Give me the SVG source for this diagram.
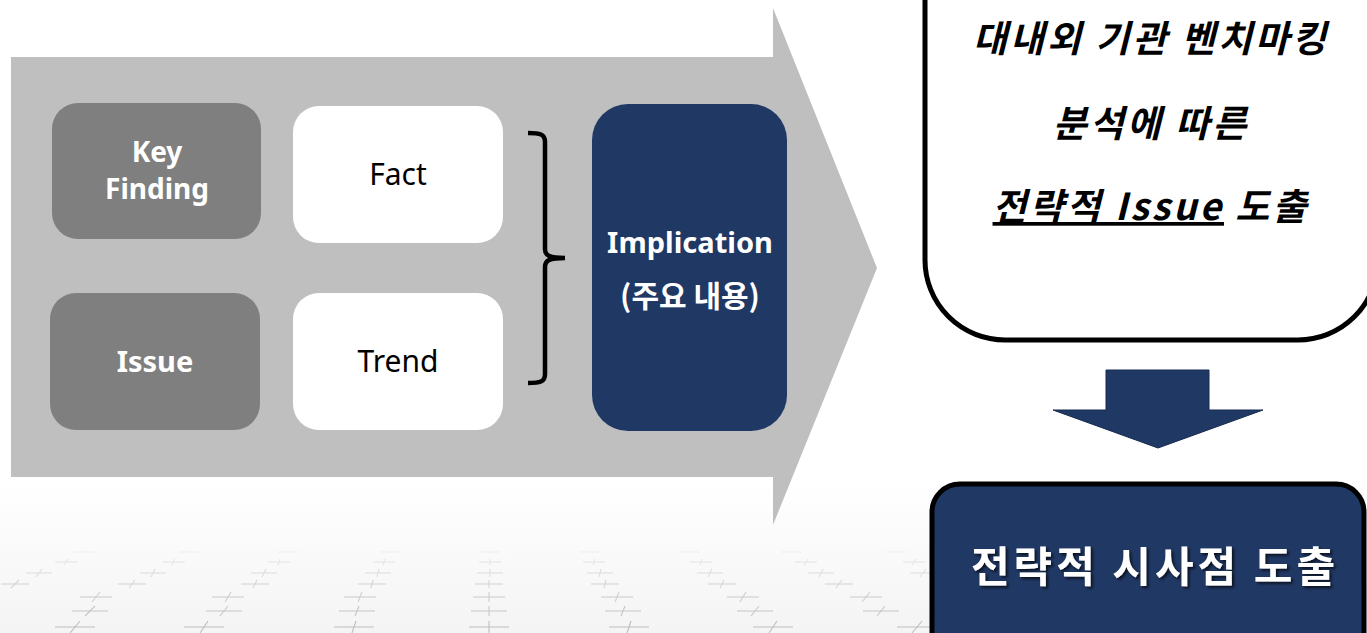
<svg xmlns="http://www.w3.org/2000/svg" width="1367" height="633" viewBox="0 0 1367 633">
<defs>
<style>
.lat{font-family:"Noto Sans","Open Sans","Liberation Sans",sans-serif}
.kr{font-family:"Noto Sans CJK KR","Noto Sans",sans-serif}
.gbox{fill:#7f7f7f}
.wbox{fill:#ffffff}
.wt{fill:#ffffff;font-weight:bold;font-size:28px;text-anchor:middle}
.bt{fill:#000000;font-size:30px;text-anchor:middle}
.cr line{stroke-width:1.1}
</style>
<linearGradient id="floor" x1="0" y1="0" x2="0" y2="1">
<stop offset="0" stop-color="#ffffff"/>
<stop offset="1" stop-color="#f4f4f4"/>
</linearGradient>
<filter id="sh" x="-10%" y="-20%" width="130%" height="150%">
<feDropShadow dx="2" dy="2" stdDeviation="1.5" flood-color="#000" flood-opacity="0.7"/>
</filter>
</defs>
<rect width="1367" height="633" fill="#ffffff"/>
<rect x="0" y="480" width="1367" height="153" fill="url(#floor)"/>
<g id="floor-grid" class="cr">
<g stroke="#efefef">
<line x1="74" y1="552" x2="94" y2="552"/><line x1="179" y1="552" x2="199" y2="552"/><line x1="278" y1="552" x2="298" y2="552"/><line x1="380" y1="552" x2="400" y2="552"/><line x1="480" y1="552" x2="500" y2="552"/><line x1="580" y1="552" x2="600" y2="552"/><line x1="679" y1="552" x2="699" y2="552"/><line x1="781" y1="552" x2="801" y2="552"/><line x1="886" y1="552" x2="906" y2="552"/>
</g>
<g stroke="#e6e6e6">
<line x1="55" y1="562" x2="77" y2="562"/><line x1="163" y1="562" x2="185" y2="562"/><line x1="268" y1="562" x2="290" y2="562"/><line x1="373" y1="562" x2="395" y2="562"/><line x1="479" y1="562" x2="501" y2="562"/><line x1="583" y1="562" x2="605" y2="562"/><line x1="690" y1="562" x2="712" y2="562"/><line x1="795" y1="562" x2="817" y2="562"/><line x1="903" y1="562" x2="925" y2="562"/>
<line x1="68" y1="559" x2="64" y2="565"/><line x1="175" y1="559" x2="172" y2="565"/><line x1="280" y1="559" x2="278" y2="565"/><line x1="385" y1="559" x2="383" y2="565"/><line x1="490" y1="559" x2="490" y2="565"/><line x1="595" y1="559" x2="593" y2="565"/><line x1="702" y1="559" x2="700" y2="565"/><line x1="808" y1="559" x2="804" y2="565"/><line x1="916" y1="559" x2="912" y2="565"/>
</g>
<g stroke="#dedede">
<line x1="26" y1="573" x2="52" y2="573"/><line x1="140" y1="573" x2="166" y2="573"/><line x1="251" y1="573" x2="277" y2="573"/><line x1="365" y1="573" x2="391" y2="573"/><line x1="477" y1="573" x2="503" y2="573"/><line x1="587" y1="573" x2="613" y2="573"/><line x1="697" y1="573" x2="723" y2="573"/><line x1="808" y1="573" x2="834" y2="573"/><line x1="910" y1="573" x2="936" y2="573"/>
<line x1="42" y1="569" x2="36" y2="577"/><line x1="155" y1="569" x2="151" y2="577"/><line x1="266" y1="569" x2="262" y2="577"/><line x1="379" y1="569" x2="377" y2="577"/><line x1="490" y1="569" x2="490" y2="577"/><line x1="601" y1="569" x2="599" y2="577"/><line x1="712" y1="569" x2="708" y2="577"/><line x1="823" y1="569" x2="819" y2="577"/><line x1="926" y1="569" x2="920" y2="577"/>
</g>
<g stroke="#d6d6d6">
<line x1="1" y1="584" x2="29" y2="584"/><line x1="118" y1="584" x2="146" y2="584"/><line x1="241" y1="584" x2="269" y2="584"/><line x1="358" y1="584" x2="386" y2="584"/><line x1="475" y1="584" x2="503" y2="584"/><line x1="591" y1="584" x2="619" y2="584"/><line x1="708" y1="584" x2="736" y2="584"/><line x1="825" y1="584" x2="853" y2="584"/>
<line x1="19" y1="580" x2="11" y2="588"/><line x1="135" y1="580" x2="129" y2="588"/><line x1="257" y1="580" x2="253" y2="588"/><line x1="373" y1="580" x2="371" y2="588"/><line x1="489" y1="580" x2="489" y2="588"/><line x1="606" y1="580" x2="604" y2="588"/><line x1="724" y1="580" x2="720" y2="588"/><line x1="842" y1="580" x2="836" y2="588"/>
</g>
<g stroke="#cecece">
<line x1="80" y1="597" x2="112" y2="597"/><line x1="212" y1="597" x2="244" y2="597"/><line x1="344" y1="597" x2="376" y2="597"/><line x1="473" y1="597" x2="505" y2="597"/><line x1="601" y1="597" x2="633" y2="597"/><line x1="727" y1="597" x2="759" y2="597"/><line x1="850" y1="597" x2="882" y2="597"/>
<line x1="100" y1="592" x2="92" y2="602"/><line x1="231" y1="592" x2="225" y2="602"/><line x1="362" y1="592" x2="358" y2="602"/><line x1="489" y1="592" x2="489" y2="602"/><line x1="619" y1="592" x2="615" y2="602"/><line x1="746" y1="592" x2="740" y2="602"/><line x1="870" y1="592" x2="862" y2="602"/>
</g>
<g stroke="#c6c6c6">
<line x1="72" y1="611" x2="108" y2="611"/><line x1="206" y1="611" x2="242" y2="611"/><line x1="339" y1="611" x2="375" y2="611"/><line x1="471" y1="611" x2="507" y2="611"/><line x1="605" y1="611" x2="641" y2="611"/><line x1="737" y1="611" x2="773" y2="611"/><line x1="863" y1="611" x2="899" y2="611"/>
<line x1="95" y1="606" x2="85" y2="616"/><line x1="228" y1="606" x2="220" y2="616"/><line x1="359" y1="606" x2="355" y2="616"/><line x1="489" y1="606" x2="489" y2="616"/><line x1="625" y1="606" x2="621" y2="616"/><line x1="759" y1="606" x2="751" y2="616"/><line x1="885" y1="606" x2="877" y2="616"/>
</g>
<g stroke="#bdbdbd">
<line x1="55" y1="627" x2="95" y2="627"/><line x1="184" y1="627" x2="224" y2="627"/><line x1="334" y1="627" x2="374" y2="627"/><line x1="469" y1="627" x2="509" y2="627"/><line x1="609" y1="627" x2="649" y2="627"/><line x1="753" y1="627" x2="793" y2="627"/><line x1="897" y1="627" x2="937" y2="627"/>
<line x1="80" y1="621" x2="70" y2="633"/><line x1="208" y1="621" x2="200" y2="633"/><line x1="356" y1="621" x2="352" y2="633"/><line x1="489" y1="621" x2="489" y2="633"/><line x1="631" y1="621" x2="627" y2="633"/><line x1="777" y1="621" x2="769" y2="633"/><line x1="922" y1="621" x2="912" y2="633"/>
</g>
</g>
<g id="big-arrow">
<polygon points="11,57 773,57 773,8 877,268 773,525 773,477 11,477" fill="#bfbfbf"/>
</g>
<g id="node-key-finding">
<rect class="gbox" x="52" y="103" width="209" height="136" rx="26"/>
<text class="lat wt" x="157" y="162">Key</text>
<text class="lat wt" x="157" y="199">Finding</text>
</g>
<g id="node-fact">
<rect class="wbox" x="293" y="106" width="210" height="137" rx="26"/>
<text class="lat bt" x="398" y="185">Fact</text>
</g>
<g id="node-issue">
<rect class="gbox" x="50" y="293" width="210" height="137" rx="26"/>
<text class="lat wt" x="155" y="372" style="font-size:29px">Issue</text>
</g>
<g id="node-trend">
<rect class="wbox" x="293" y="293" width="210" height="137" rx="26"/>
<text class="lat bt" x="398" y="372">Trend</text>
</g>
<g id="connectors">
<path d="M528,133 C540,133 545,134 545,142 L545,249 C545,256 550,258 565,258 C550,258 545,260 545,267 L545,374 C545,382 540,383 528,383" fill="none" stroke="#000" stroke-width="4.5"/>
<polygon id="down-arrow" points="1106,370 1209,370 1209,410 1263,410 1158,448 1053,410 1106,410" fill="#203864" stroke="#162a4e" stroke-width="1"/>
</g>
<g id="node-implication">
<rect x="592" y="104" width="195" height="327" rx="36" fill="#203864"/>
<text class="lat wt" x="690" y="253" style="font-size:29px">Implication</text>
<text class="kr wt" x="690" y="307" style="font-size:30px">(주요 내용)</text>
</g>
<g id="node-issue-box">
<rect x="925" y="-100" width="453" height="440" rx="80" fill="#ffffff" stroke="#000" stroke-width="5"/>
<g class="kr" font-weight="bold" font-style="italic" font-size="37" text-anchor="middle" fill="#000" letter-spacing="3">
<text x="1151" y="52">대내외 기관 벤치마킹</text>
<text x="1151" y="137">분석에 따른</text>
<text x="1151" y="220"><tspan text-decoration="underline">전략적 Issue</tspan> 도출</text>
</g>
</g>
<g id="node-result">
<rect x="932" y="484" width="432" height="200" rx="28" fill="#203864" stroke="#000" stroke-width="5"/>
<text class="kr" x="1155" y="582" font-size="42" font-weight="bold" fill="#ffffff" text-anchor="middle" letter-spacing="4" filter="url(#sh)">전략적 시사점 도출</text>
</g>
</svg>
